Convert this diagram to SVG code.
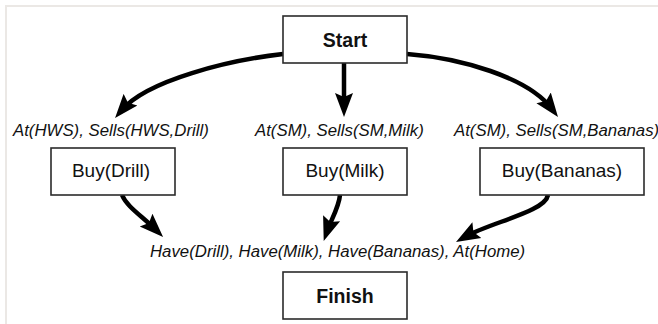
<svg xmlns="http://www.w3.org/2000/svg" width="658" height="324" viewBox="0 0 658 324">
  <style>
    .box { fill: #ffffff; stroke: #2b2b2b; stroke-width: 1.6; }
    .term { font-family: "Liberation Sans", Arial, Helvetica, sans-serif; font-size: 19.5px; font-weight: bold; fill: #111; text-anchor: middle; }
    .act { font-family: "Liberation Sans", Arial, Helvetica, sans-serif; font-size: 19px; fill: #111; text-anchor: middle; }
    .cond { font-family: "Liberation Sans", Arial, Helvetica, sans-serif; font-size: 16.8px; font-style: italic; fill: #111; }
    .edge { fill: none; stroke: #000; stroke-width: 4.5; marker-end: url(#head); }
    .frame { stroke: #ebe8e5; stroke-width: 2; fill: none; }
  </style>
  <defs>
    <marker id="head" viewBox="0 -10 26 20" refX="14" refY="0" markerWidth="26" markerHeight="20" markerUnits="userSpaceOnUse" orient="auto">
      <path d="M0,-9 L24,0 L0,9 L4,0 Z" fill="#000"/>
    </marker>
  </defs>

  <!-- page frame -->
  <path class="frame" d="M6,324 V6 H658"/>

  <!-- ordering links -->
  <g id="connectors">
    <path class="edge" d="M283,54 C230,60 147,80 121.5,110.4"/>
    <path class="edge" d="M344,63 V107"/>
    <path class="edge" d="M407,54 C460,58 528,77 552,109"/>
    <path class="edge" d="M122,195 C127,207 142,216 156,230"/>
    <path class="edge" d="M340,195 C339,207 331,220 327,231.5"/>
    <path class="edge" d="M548,195 C545,212 491,222 464.7,237"/>
  </g>

  <g id="start">
    <rect class="box" x="283" y="16" width="124" height="47"/>
    <text class="term" x="345" y="47">Start</text>
  </g>

  <g id="buy-drill">
    <text class="cond" x="13" y="136">At(HWS), Sells(HWS,Drill)</text>
    <rect class="box" x="51" y="148" width="124" height="47"/>
    <text class="act" x="111" y="177">Buy(Drill)</text>
  </g>

  <g id="buy-milk">
    <text class="cond" x="255" y="136">At(SM), Sells(SM,Milk)</text>
    <rect class="box" x="283" y="148" width="124" height="47"/>
    <text class="act" x="345" y="177">Buy(Milk)</text>
  </g>

  <g id="buy-bananas">
    <text class="cond" x="454" y="136">At(SM), Sells(SM,Bananas)</text>
    <rect class="box" x="480" y="148" width="164" height="47"/>
    <text class="act" x="562" y="177">Buy(Bananas)</text>
  </g>

  <g id="finish">
    <text class="cond" x="150" y="257">Have(Drill), Have(Milk), Have(Bananas), At(Home)</text>
    <rect class="box" x="283" y="272" width="124" height="47"/>
    <text class="term" x="345" y="303">Finish</text>
  </g>
</svg>
